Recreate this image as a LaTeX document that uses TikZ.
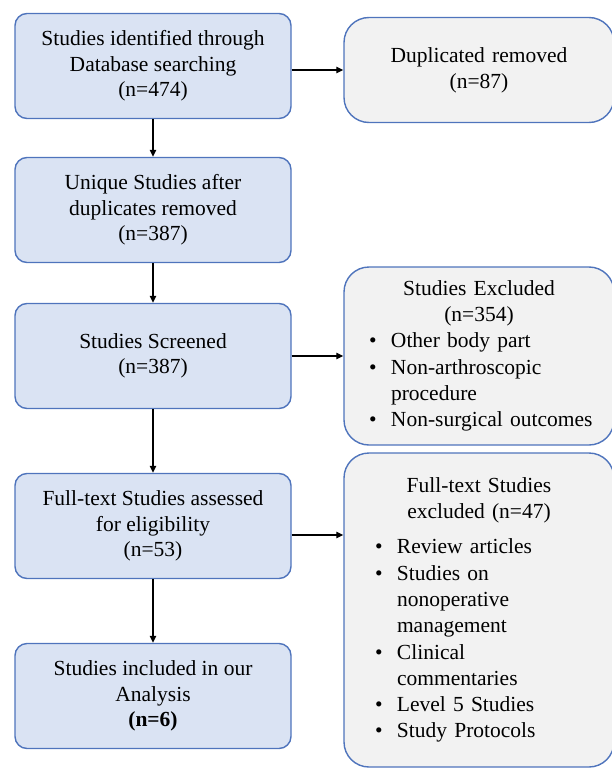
\documentclass[tikz,border=0pt]{standalone}
\usepackage{fontspec}
\setmainfont{Liberation Serif}
\usetikzlibrary{arrows.meta}
\definecolor{boxblue}{HTML}{DAE3F3}
\definecolor{boxgray}{HTML}{F2F2F2}
\definecolor{edgeblue}{HTML}{4F74BC}
\setlength{\parindent}{0pt}
\newcommand{\bitem}[2]{\par\hangindent=\dimexpr#1+22pt\relax\hangafter=1\hspace*{#1}\makebox[22pt][l]{\textbullet}#2}

\begin{document}
\begin{tikzpicture}[x=1pt, y=-1pt,
    font=\fontsize{21.5}{25.5}\selectfont,
    stage/.style={draw=edgeblue, line width=1.4pt, fill=boxblue, rounded corners=12pt,
        minimum width=276pt, minimum height=105pt, align=center},
    side/.style={draw=edgeblue, line width=1.4pt, fill=boxgray, rounded corners=25pt,
        minimum width=270pt, text width=240pt, font=\fontsize{21.5}{26.3}\selectfont},
    flow/.style={-{Triangle[length=7pt,width=6.5pt]}, line width=1.3pt}]
    \useasboundingbox (0,0) rectangle (612,768);
    \node[stage] (ident) at (153,66) {Studies identified through\\Database searching\\(n=474)};
    \node[stage] (uniq) at (153,210) {Unique Studies after\\duplicates removed\\(n=387)};
    \node[stage] (scr) at (153,356) {Studies Screened\\(n=387)};
    \node[stage] (full) at (153,526) {Full-text Studies assessed\\for eligibility\\(n=53)};
    \node[stage] (incl) at (153,696) {Studies included in our\\Analysis\\\textbf{(n=6)}};
    \node[side, minimum height=105pt] (dup) at (479,70) {\centering Duplicated removed\\(n=87)\par};
    \node[side, minimum height=178pt] (excl) at (479,356) {{\centering Studies Excluded\\(n=354)\par}\raggedright
        \bitem{10pt}{Other body part}
        \bitem{10pt}{Non-arthroscopic\newline procedure}
        \bitem{10pt}{Non-surgical outcomes}\par};
    \node[side, minimum height=314pt] (ftex) at (479,610) {{\centering Full-text Studies\\excluded (n=47)\par}\vspace{9pt}\raggedright
        \bitem{16pt}{Review articles}
        \bitem{16pt}{Studies on\newline nonoperative\newline management}
        \bitem{16pt}{Clinical\newline commentaries}
        \bitem{16pt}{Level 5 Studies}
        \bitem{16pt}{Study Protocols}\par};
    % arrows down the main column
    \draw[flow] (ident) -- (uniq);
    \draw[flow] (uniq) -- (scr);
    \draw[flow] (scr) -- (full);
    \draw[flow] (full) -- (incl);
    % arrows to the side boxes
    \draw[flow] (ident.east |- dup) -- (dup.west);
    \draw[flow] (scr.east |- excl) -- (excl.west);
    \draw[flow] ([yshift=-9pt]full.east) -- ([yshift=-9pt]full.east -| ftex.west);
\end{tikzpicture}
\end{document}
